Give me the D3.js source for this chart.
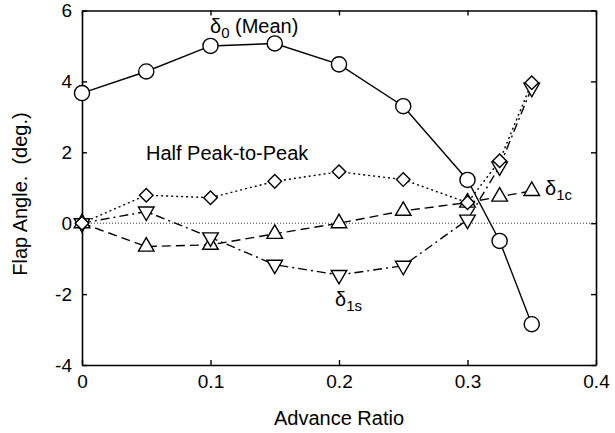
<!DOCTYPE html>
<html>
<head>
<meta charset="utf-8">
<script src="https://cdn.jsdelivr.net/npm/d3@7"></script>
<style>
  body { margin: 0; background: #fff; }
  svg text { font-family: "Liberation Sans", Arial, sans-serif; fill: #000; }
</style>
</head>
<body>
<svg id="chart" width="615" height="433"></svg>
<script>
// advance ratio (x) and the four flap angle series (deg.)
const advance = [0, 0.05, 0.1, 0.15, 0.2, 0.25, 0.3, 0.325, 0.35];
const mean = [3.67, 4.28, 5.0, 5.07, 4.48, 3.3, 1.22, -0.5, -2.85];
const halfPeak = [0, 0.79, 0.72, 1.18, 1.45, 1.23, 0.58, 1.76, 3.96];
const delta1c = [0, -0.66, -0.61, -0.3, 0.0, 0.35, 0.58, 0.75, 0.91];
const delta1s = [0, 0.33, -0.4, -1.17, -1.46, -1.2, 0.1, 1.6, 3.82];
const xTicks = [0, 0.1, 0.2, 0.3, 0.4];
const yTicks = [-4, -2, 0, 2, 4, 6];

var svg = d3.select('#chart');

var x = d3.scaleLinear().domain([0, 0.4]).range([82, 596]);
var y = d3.scaleLinear().domain([-4, 6]).range([365, 10.5]);

// zero reference line
svg.append('line')
  .attr('x1', x(0)).attr('x2', x(0.4))
  .attr('y1', y(0)).attr('y2', y(0))
  .attr('stroke', '#000')
  .attr('stroke-width', 0.8)
  .attr('stroke-dasharray', '1,2');

// axes, ticks pointing inward on all four sides
var fmt = d => d === 0 ? '0' : String(d);
var axes = [
  { a: d3.axisBottom(x).tickValues(xTicks).tickFormat(fmt), t: `translate(0,${y(-4)})` },
  { a: d3.axisTop(x).tickValues(xTicks).tickFormat(''), t: `translate(0,${y(6)})` },
  { a: d3.axisLeft(y).tickValues(yTicks).tickFormat(fmt), t: `translate(${x(0)},0)` },
  { a: d3.axisRight(y).tickValues(yTicks).tickFormat(''), t: `translate(${x(0.4)},0)` }
];
axes.forEach(ax => {
  var g = svg.append('g')
    .attr('transform', ax.t)
    .call(ax.a.tickSizeInner(-5).tickSizeOuter(0).tickPadding(10));
  g.select('.domain').attr('stroke-width', 1.6);
  g.selectAll('.tick line').attr('stroke-width', 1.4);
  g.selectAll('.tick text')
    .attr('font-size', 19)
    .attr('font-family', '"Liberation Sans", Arial, sans-serif');
});

// drawn in this order so diamonds sit over the triangles, circles on top
var series = [
  { vals: delta1c, dash: '9,5', sym: 'up' },
  { vals: delta1s, dash: '9,4,2,4', sym: 'down' },
  { vals: halfPeak, dash: '2,3', sym: 'diamond' },
  { vals: mean, dash: null, sym: 'circle' }
];

var line = d3.line().x(d => x(d[0])).y(d => y(d[1]));

series.forEach(s => {
  var pts = advance.map((a, i) => [a, s.vals[i]]);
  svg.append('path')
    .datum(pts)
    .attr('d', line)
    .attr('fill', 'none')
    .attr('stroke', '#000')
    .attr('stroke-width', 1.4)
    .attr('stroke-dasharray', s.dash);
});

var symGen = {
  circle: d3.symbol().type(d3.symbolCircle).size(180),
  diamond: d3.symbol().type(d3.symbolSquare).size(92),
  up: d3.symbol().type(d3.symbolTriangle).size(105),
  down: d3.symbol().type(d3.symbolTriangle).size(105)
};
var rot = { circle: 0, diamond: 45, up: 0, down: 180 };

series.forEach(s => {
  svg.append('g')
    .selectAll('path')
    .data(advance.map((a, i) => [a, s.vals[i]]))
    .enter()
    .append('path')
    .attr('d', symGen[s.sym]())
    .attr('transform', d => `translate(${x(d[0])},${y(d[1])}) rotate(${rot[s.sym]})`)
    .attr('fill', '#fff')
    .attr('stroke', '#000')
    .attr('stroke-width', 1.4);
});

// annotations
function delta(px, py, sub, rest) {
  var t = svg.append('text').attr('x', px).attr('y', py).attr('font-size', 20);
  t.append('tspan').text('δ');
  t.append('tspan').attr('font-size', 15).attr('dy', 5).text(sub);
  if (rest) t.append('tspan').attr('dy', -5).text(rest);
}
delta(210, 33, '0', ' (Mean)');
delta(545, 195, '1c');
delta(335, 306, '1s');

svg.append('text')
  .attr('x', 146).attr('y', 160)
  .attr('font-size', 20)
  .text('Half Peak-to-Peak');

svg.append('text')
  .attr('x', 339).attr('y', 425)
  .attr('text-anchor', 'middle')
  .attr('font-size', 20)
  .text('Advance Ratio');

svg.append('text')
  .attr('transform', 'translate(27,194) rotate(-90)')
  .attr('text-anchor', 'middle')
  .attr('font-size', 20)
  .attr('xml:space', 'preserve')
  .style('white-space', 'pre')
  .text('Flap Angle.  (deg.)');
</script>
</body>
</html>
